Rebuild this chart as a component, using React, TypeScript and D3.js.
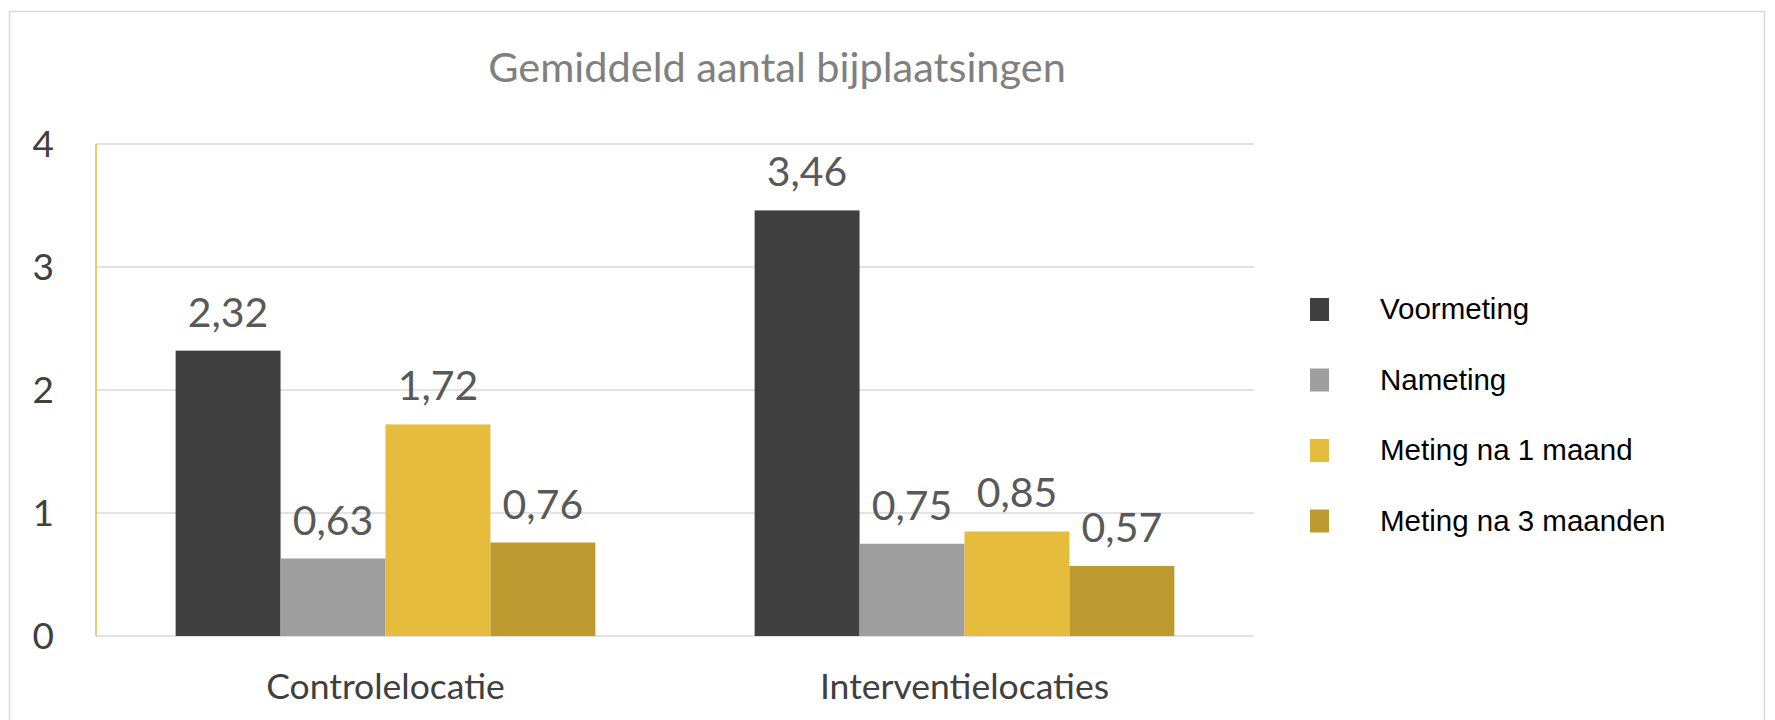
import { useEffect, useRef } from 'react'
import * as d3 from 'd3'

const categories = ['Controlelocatie', 'Interventielocaties']
const seriesNames = ['Voormeting', 'Nameting', 'Meting na 1 maand', 'Meting na 3 maanden']
const voormeting = [2.32, 3.46]
const nameting = [0.63, 0.75]
const meting1 = [1.72, 0.85]
const meting3 = [0.76, 0.57]
const yTicks = [0, 1, 2, 3, 4]
const colors = ['#404040', '#9e9e9e', '#e5bc3b', '#bd9a2f']

export default function App() {
  const svgRef = useRef<SVGSVGElement>(null)

  useEffect(() => {
    if (!svgRef.current) return
    const svg = d3.select(svgRef.current)
    svg.selectAll('*').remove()

    const width = 1775
    const height = 720
    const plot = { left: 96, right: 1254, top: 144, bottom: 636 }
    const font = 'Lato, "Open Sans", sans-serif'

    // outer frame
    svg.append('rect')
      .attr('x', 9.5).attr('y', 11.5)
      .attr('width', 1755).attr('height', 730)
      .attr('fill', '#fff')
      .attr('stroke', '#d9d9d9')
      .attr('stroke-width', 1.5)

    const x0 = d3.scaleBand()
      .domain(categories)
      .range([plot.left, plot.right])
      .paddingInner(0.275)
      .paddingOuter(0.1375)

    const x1 = d3.scaleBand()
      .domain(seriesNames)
      .range([0, x0.bandwidth()])

    const y = d3.scaleLinear().domain([0, 4]).range([plot.bottom, plot.top])

    // gridlines
    svg.append('g')
      .selectAll('line')
      .data(yTicks)
      .enter().append('line')
      .attr('x1', plot.left).attr('x2', plot.right)
      .attr('y1', d => y(d)).attr('y2', d => y(d))
      .attr('stroke', '#d9d9d9')
      .attr('stroke-width', 1.5)

    // y axis line
    svg.append('line')
      .attr('x1', plot.left).attr('x2', plot.left)
      .attr('y1', y(4)).attr('y2', y(0))
      .attr('stroke', '#e5bc3b')
      .attr('stroke-width', 1.5)

    // tick labels
    svg.append('g')
      .selectAll('text')
      .data(yTicks)
      .enter().append('text')
      .attr('x', 54)
      .attr('y', d => y(d))
      .attr('dy', '0.36em')
      .attr('text-anchor', 'end')
      .style('font-family', font)
      .style('font-size', '37px')
      .style('fill', '#404040')
      .text(d => d)

    const series = [voormeting, nameting, meting1, meting3]

    const groups = svg.append('g')
      .selectAll('g')
      .data(categories)
      .enter().append('g')
      .attr('transform', d => `translate(${x0(d)},0)`)

    groups.each(function (cat, ci) {
      const g = d3.select(this)
      seriesNames.forEach((name, si) => {
        const v = series[si][ci]
        g.append('rect')
          .attr('x', x1(name)!)
          .attr('y', y(v))
          .attr('width', x1.bandwidth())
          .attr('height', y(0) - y(v))
          .attr('fill', colors[si])
        g.append('text')
          .attr('x', x1(name)! + x1.bandwidth() / 2)
          .attr('y', y(v) - 24)
          .attr('text-anchor', 'middle')
          .style('font-family', font)
          .style('font-size', '41px')
          .style('fill', '#595959')
          .text(v.toFixed(2).replace('.', ','))
      })
    })

    // category labels
    svg.append('g')
      .selectAll('text')
      .data(categories)
      .enter().append('text')
      .attr('x', d => x0(d)! + x0.bandwidth() / 2)
      .attr('y', 699)
      .attr('text-anchor', 'middle')
      .style('font-family', font)
      .style('font-size', '35.5px')
      .style('fill', '#404040')
      .text(d => d)

    // title
    svg.append('text')
      .attr('x', 777)
      .attr('y', 82)
      .attr('text-anchor', 'middle')
      .style('font-family', font)
      .style('font-size', '41.5px')
      .style('fill', '#808080')
      .text('Gemiddeld aantal bijplaatsingen')

    // legend
    const legend = svg.append('g')
      .selectAll('g')
      .data(seriesNames)
      .enter().append('g')
      .attr('transform', (d, i) => `translate(1310, ${309 + i * 70.5})`)

    legend.append('rect')
      .attr('x', 0).attr('y', -11)
      .attr('width', 19).attr('height', 23)
      .attr('fill', (d, i) => colors[i])

    legend.append('text')
      .attr('x', 70)
      .attr('y', 0)
      .attr('dy', '0.35em')
      .style('font-family', '"Liberation Sans", Arial, sans-serif')
      .style('font-size', '29.5px')
      .style('fill', '#000')
      .text(d => d)

    svg.attr('width', width).attr('height', height)
  }, [])

  return (
    <svg
      ref={svgRef}
      width={1775}
      height={720}
      style={{ position: 'absolute', left: 0, top: 0, background: '#fff' }}
    />
  )
}
